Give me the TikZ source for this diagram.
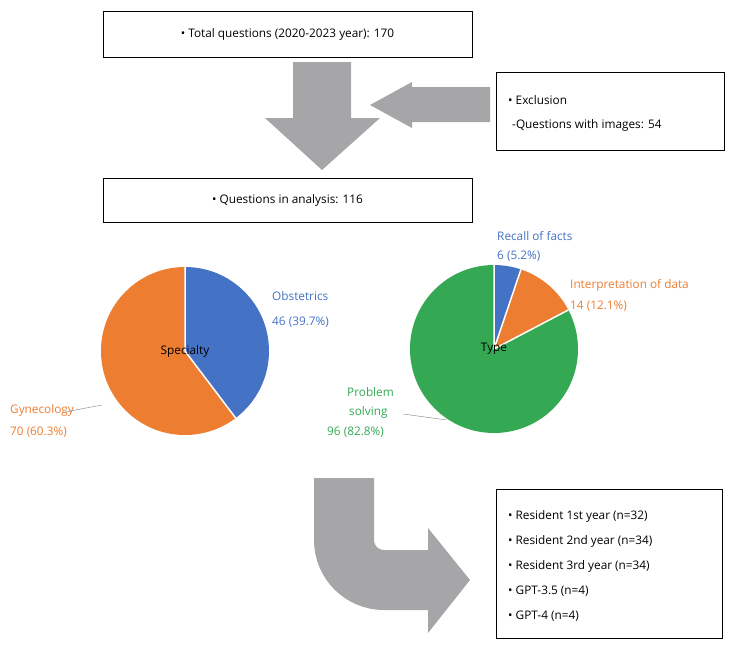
\documentclass[tikz,border=0pt]{standalone}
\usepackage{fontspec}
\setmainfont{Open Sans}
\definecolor{pblue}{HTML}{4472C4}
\definecolor{porange}{HTML}{ED7D31}
\definecolor{pgreen}{HTML}{34A853}
\definecolor{agray}{HTML}{A6A6A8}
\begin{document}
\begin{tikzpicture}[x=1pt,y=-1pt,font=\fontsize{11.8}{14}\selectfont,
  box/.style={draw,line width=0.8pt,fill=white},
  lbl/.style={anchor=west,inner sep=0pt}]
\useasboundingbox (0,0) rectangle (735,651);
% boxes
\node[box,minimum width=369,minimum height=46] (b1) at (287.5,34) {• Total questions (2020-2023 year): 170};
\node[box,minimum width=228,minimum height=78] (b2) at (610,111) {};
\node[lbl] (e1) at (508,100) {• Exclusion};
\node[lbl] (e2) at (512,125) {-Questions with images: 54};
\node[box,minimum width=369,minimum height=44] (b3) at (287.5,200) {• Questions in analysis: 116};
% down arrow
\fill[agray] (293,62) -- (351,62) -- (351,118) -- (380,118) -- (322,170) -- (265,118) -- (293,118) -- cycle;
% left arrow
\fill[agray] (490,87) -- (412,87) -- (412,82) -- (370,105) -- (412,128) -- (412,122) -- (490,122) -- cycle;
% pie 1
\begin{scope}[shift={(185,351)},yscale=-1]
\fill[porange] (0,0) -- (90:84) arc[start angle=90,end angle=307.1,radius=84] -- cycle;
\fill[pblue] (0,0) -- (90:84) arc[start angle=90,end angle=-52.9,radius=84] -- cycle;
\draw[white,line width=1.5pt] (0,0) -- (90:84) (0,0) -- (-52.9:84);
\end{scope}
\node (s1) at (185,351) {Specialty};
\node[lbl,text=pblue] (o1) at (272,296) {Obstetrics};
\node[lbl,text=pblue] (o2) at (272,322) {46 (39.7\%)};
\node[lbl,text=porange] (g1) at (10,410) {Gynecology};
\node[lbl,text=porange] (g2) at (10,432) {70 (60.3\%)};
\draw[gray] (65,412) -- (102,405);
% pie 2
\begin{scope}[shift={(494,349)},yscale=-1]
\fill[pgreen] (0,0) -- (90:84) arc[start angle=90,end angle=387.7,radius=84] -- cycle;
\fill[porange] (0,0) -- (71.3:84) arc[start angle=71.3,end angle=27.7,radius=84] -- cycle;
\fill[pblue] (0,0) -- (90:84) arc[start angle=90,end angle=71.3,radius=84] -- cycle;
\draw[white,line width=1.5pt] (0,0) -- (90:84) (0,0) -- (71.3:84) (0,0) -- (27.7:84);
\end{scope}
\node (s2) at (494,349) {Type};
\node[lbl,text=pblue] (r1) at (497,236) {Recall of facts};
\node[lbl,text=pblue] (r2) at (497,256) {6 (5.2\%)};
\node[lbl,text=porange] (i1) at (570,285) {Interpretation of data};
\node[lbl,text=porange] (i2) at (570,306) {14 (12.1\%)};
\node[lbl,text=pgreen] (p1) at (347,392) {Problem};
\node[lbl,text=pgreen] (p2) at (349,412) {solving};
\node[lbl,text=pgreen] (p3) at (327,432) {96 (82.8\%)};
\draw[gray] (403,414) -- (447,420);
% curved arrow
\draw[agray,line width=60pt,rounded corners=40pt] (344,478) -- (344,580) -- (430,580);
\fill[agray] (428,528) -- (470,580) -- (428,633) -- cycle;
% bottom box
\node[box,minimum width=226,minimum height=149] (b4) at (609,563.5) {};
\node[lbl] (l1) at (508,516) {• Resident 1st year (n=32)};
\node[lbl] (l2) at (508,541) {• Resident 2nd year (n=34)};
\node[lbl] (l3) at (508,566) {• Resident 3rd year (n=34)};
\node[lbl] (l4) at (508,591) {• GPT-3.5 (n=4)};
\node[lbl] (l5) at (508,616) {• GPT-4 (n=4)};
\end{tikzpicture}
\end{document}
